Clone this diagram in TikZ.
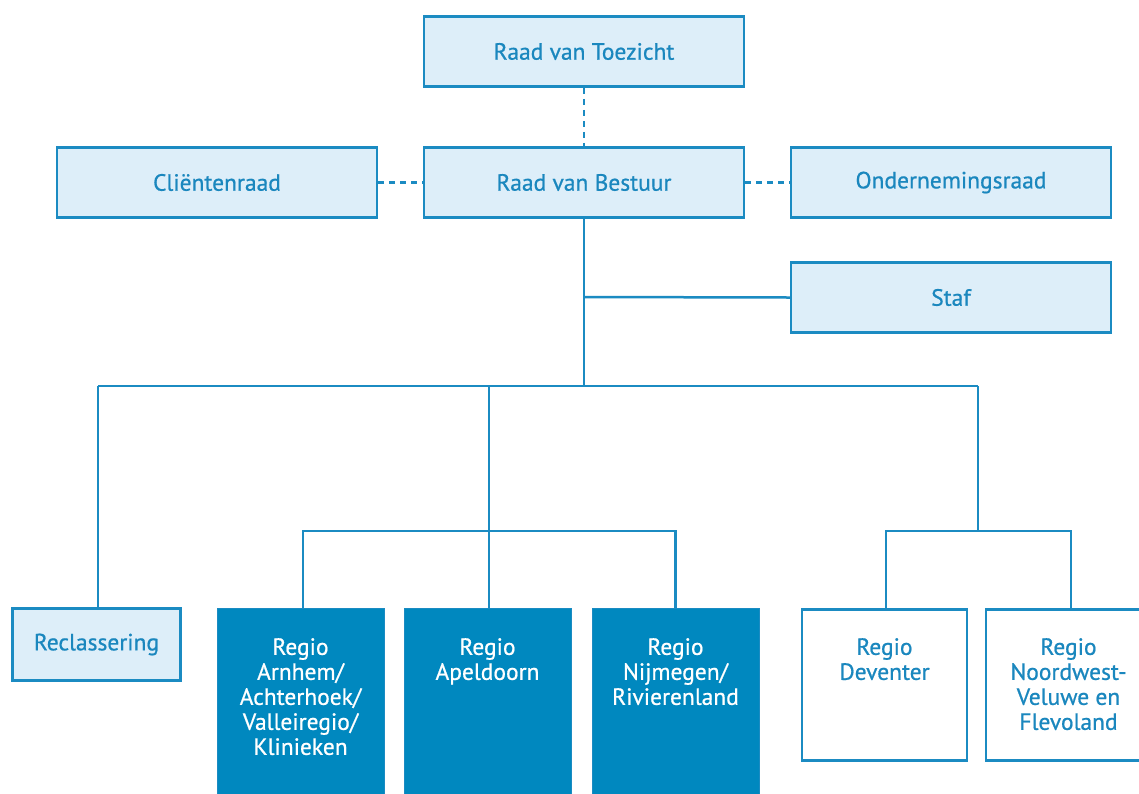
\documentclass[tikz,border=0pt]{standalone}
\usepackage{fontspec}
\setmainfont{PT Sans}
\newfontfamily\labfont{PT Sans}[FakeBold=0.7]
\definecolor{lineblue}{HTML}{1B8BC2}
\definecolor{lightfill}{HTML}{DDEEF9}
\definecolor{darkfill}{HTML}{0088BF}
\definecolor{txtblue}{HTML}{1A87BE}
\tikzset{
  conn/.style={draw=lineblue, line width=2.5pt},
  dconn/.style={draw=lineblue, line width=2.5pt, dash pattern=on 6pt off 5pt},
  lightbox/.style={draw=lineblue, fill=lightfill, line width=2.5pt, minimum width=320pt, minimum height=70pt, inner sep=0pt, text=txtblue, font=\labfont\fontsize{23.5}{25}\selectfont},
  darkbox/.style={draw=lineblue, fill=darkfill, line width=0pt, minimum width=167pt, minimum height=200pt, inner sep=0pt},
  whitebox/.style={draw=lineblue, fill=white, line width=2.5pt, minimum width=165pt, minimum height=151pt, inner sep=0pt},
  boxtext/.style={anchor=north, inner sep=0pt, align=center, font=\labfont\fontsize{23.5}{25}\selectfont},
}
\begin{document}
\begin{tikzpicture}[x=1pt,y=-1pt]
\useasboundingbox (0,0) rectangle (1139,793);
\clip (0,0) rectangle (1139,793);
% top row
\node[lightbox] (toez) at (584,51.5) {Raad van Toezicht};
\node[lightbox] (best) at (584,182.5) {Raad van Bestuur};
\node[lightbox] (client) at (217,182.5) {Cliëntenraad};
\node[lightbox] (onder) at (951,182.5) {Ondernemingsraad};
\node[lightbox] (staf) at (951,297.5) {Staf};
\node[lightbox, minimum width=168pt, minimum height=72pt] (recl) at (96.5,644.5) {Reclassering};
% regio boxes
\node[darkbox, anchor=north] (arn) at (300.5,608) {};
\node[darkbox, anchor=north] (apel) at (487.5,608) {};
\node[darkbox, anchor=north] (nijm) at (675.5,608) {};
\node[whitebox, anchor=north] (dev) at (884.5,608) {};
\node[whitebox, anchor=north] (noord) at (1068.5,608) {};
\node[boxtext, text=white] (arnt) at (300.5,638) {Regio\\Arnhem/\\Achterhoek/\\Valleiregio/\\Klinieken};
\node[boxtext, text=white] (apelt) at (487.5,638) {Regio\\Apeldoorn};
\node[boxtext, text=white] (nijmt) at (675.5,638) {Regio\\Nijmegen/\\Rivierenland};
\node[boxtext, text=txtblue] (devt) at (884.5,638) {Regio\\Deventer};
\node[boxtext, text=txtblue] (noordt) at (1068.5,638) {Regio\\Noordwest-\\Veluwe en\\Flevoland};
% coordinates
\coordinate (j1) at (584,297);
\coordinate (j2) at (584,386);
\coordinate (jl) at (98,386);
\coordinate (jm) at (489,386);
\coordinate (jr) at (978,386);
\coordinate (jm2) at (489,531);
\coordinate (jr2) at (978,531);
% dashed
\draw[dconn] (toez.south) -- (best.north);
\draw[dconn] (client.east) -- (best.west);
\draw[dconn] (best.east) -- (onder.west);
% solid tree
\draw[conn] (best.south) -- (j2);
\draw[conn] (j1) -- (staf.west);
\draw[conn] (jl) -- (jr);
\draw[conn] (jl) -- (recl.north -| jl);
\draw[conn] (jm) -- (jm2);
\draw[conn] (jr) -- (jr2);
\draw[conn] (arn.north -| 303,0) |- (jm2) -| (nijm.north);
\draw[conn] (apel.north -| jm2) -- (jm2);
\draw[conn] (dev.north -| 886,0) |- (jr2) -| (noord.north -| 1071,0);
\end{tikzpicture}
\end{document}
